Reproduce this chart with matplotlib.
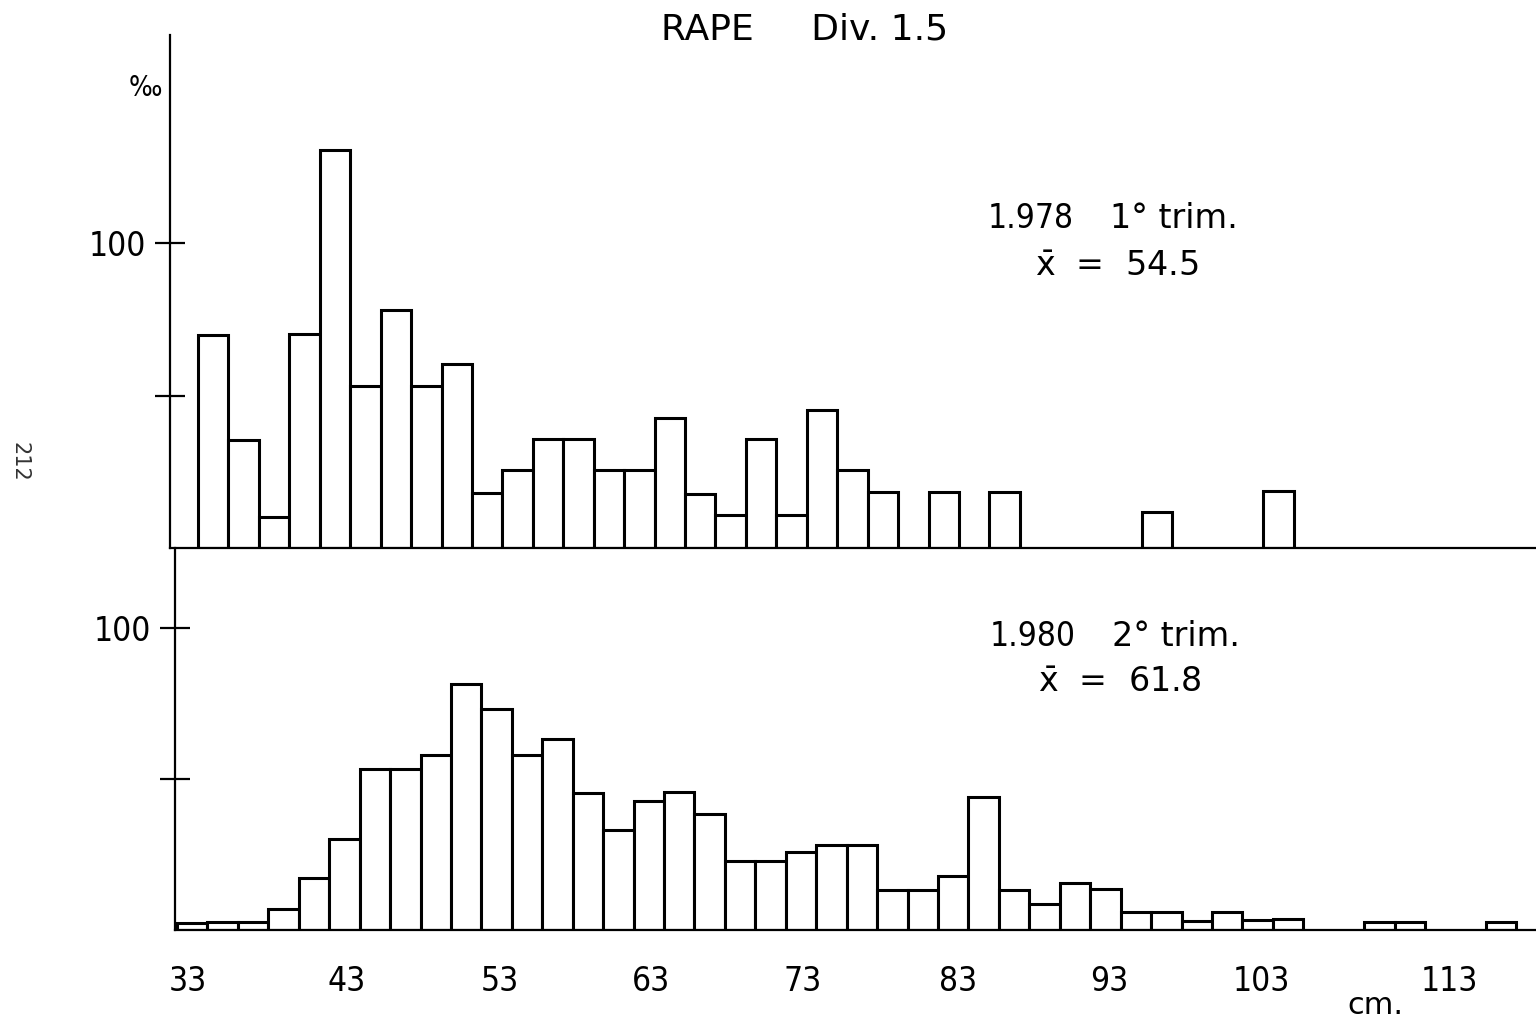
import matplotlib
matplotlib.use('Agg')
import matplotlib.pyplot as plt
import numpy as np

# per mille by 2 cm length class
top_pct = [70.0, 35.5, 10.3, 70.3, 130.5, 53.0, 78.0, 53.0, 60.3, 18.0,
           25.7, 35.6, 35.6, 25.6, 25.5, 42.5, 17.7, 10.8, 35.6, 10.7,
           45.2, 25.7, 18.2, 0, 18.2, 0, 18.5, 0, 0, 0,
           0, 11.9, 0, 0, 0, 18.6]
bot_pct = [2.3, 2.5, 2.5, 6.9, 17.1, 30.1, 53.2, 53.3, 58.0, 81.6,
           73.2, 57.9, 63.4, 45.5, 33.0, 42.8, 45.8, 38.3, 22.8, 23.0,
           25.7, 28.1, 28.0, 13.1, 13.1, 17.9, 44.2, 13.4, 8.6, 15.5,
           13.7, 6.1, 5.8, 2.9, 5.9, 3.3, 3.5, 0, 0, 2.8,
           2.8, 0, 0, 2.8]
# the two panels were hand drawn on slightly shifted grids
top_start = 33.66
bot_start = 32.28
bin_w = 2.0

x_labels = ['33', '43', '53', '63', '73', '83', '93', '103', '113']
# lettered by hand, not quite on the grid (113 is well off)
x_label_pos = [33, 43.4, 53.5, 63.4, 73.4, 83.6, 93.5, 103.5, 115.9]

W, H = 1536, 1025
PX_CM = 15.22
plt.rcParams['font.family'] = ['DejaVu Sans']
plt.rcParams['font.stretch'] = 'condensed'

fig = plt.figure(figsize=(W / 100, H / 100), dpi=100)

def px2cm(x):
    return (x + 314.3) / PX_CM

def fig_box(x0, y0, x1, y1):
    return [x0 / W, 1 - y1 / H, (x1 - x0) / W, (y1 - y0) / H]

ax1 = fig.add_axes(fig_box(170, 35, W, 548))
ax2 = fig.add_axes(fig_box(175, 548, W, 930))

ax1.set_xlim(px2cm(170), px2cm(W))
ax2.set_xlim(px2cm(175), px2cm(W))
ax1.set_ylim(0, (548 - 35) / 3.05)
ax2.set_ylim(0, (930 - 548) / 3.02)

for ax, start, vals in [(ax1, top_start, top_pct), (ax2, bot_start, bot_pct)]:
    vals = np.array(vals)
    lefts = start + bin_w * np.arange(len(vals))
    keep = vals > 0
    ax.bar(lefts[keep], vals[keep], width=bin_w, align='edge',
           color='white', edgecolor='black', linewidth=2.2)
    for s in ['top', 'right']:
        ax.spines[s].set_visible(False)
    ax.spines['left'].set_linewidth(1.6)
    ax.spines['bottom'].set_linewidth(1.6)
    ax.set_yticks([50, 100])
    ax.set_yticklabels(['', '100'], fontsize=24)
    ax.tick_params(axis='y', direction='inout', length=22, width=1.6, pad=6)
    ax.patch.set_alpha(0)

ax1.set_xticks([])
ax2.set_xticks(x_label_pos)
ax2.set_xticklabels(x_labels, fontsize=24)
ax2.tick_params(axis='x', length=0, pad=25)

def ftext(x, y, s, **kw):
    fig.text(x / W, 1 - y / H, s, **kw)

ftext(805, 30, 'RAPE     Div. 1.5', fontsize=26, stretch='normal', ha='center', va='center')
ftext(145, 88, '\u2030', fontsize=20, ha='center', va='center')
ftext(988, 218, '1.978', fontsize=24, ha='left', va='center')
ftext(1110, 218, '1\u00b0 trim.', fontsize=24, stretch='normal', ha='left', va='center')
ftext(1035, 266, r'$\bar{\mathregular{x}}$  =  54.5', fontsize=24, stretch='normal', ha='left', va='center')
ftext(990, 637, '1.980', fontsize=24, ha='left', va='center')
ftext(1112, 637, '2\u00b0 trim.', fontsize=24, stretch='normal', ha='left', va='center')
ftext(1038, 683, r'$\bar{\mathregular{x}}$  =  61.8', fontsize=24, stretch='normal', ha='left', va='center')
ftext(1375, 1005, 'cm.', fontsize=22, stretch='normal', ha='center', va='center')
ftext(19, 462, '212', fontsize=15, stretch='normal', rotation=270, ha='center', va='center', color='#333333')

fig.savefig('out.png', dpi=100)
